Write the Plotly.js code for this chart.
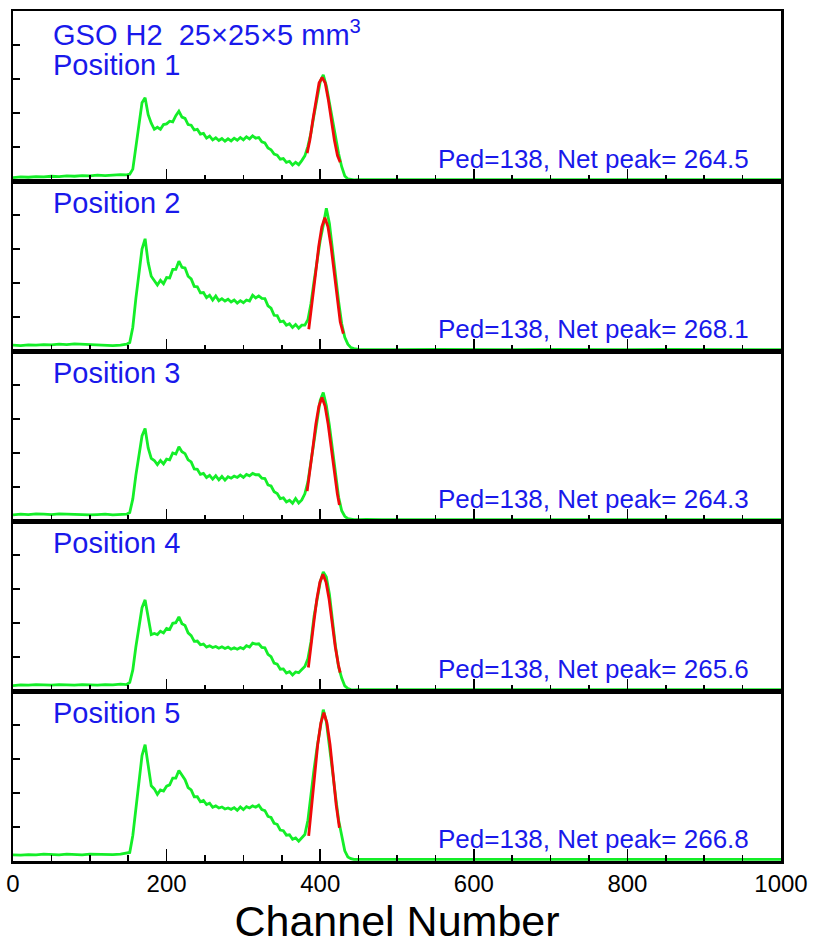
<!DOCTYPE html>
<html>
<head>
<meta charset="utf-8">
<script src="https://cdn.plot.ly/plotly-3.0.1.min.js"></script>
<style>
  html, body { margin: 0; padding: 0; background: #ffffff; }
  #chart { width: 814px; height: 945px; }
</style>
</head>
<body>
<div id="chart"></div>
<script>
// GSO H2 (25x25x5 mm^3) pulse-height spectra, five source positions.

// Channel grid shared by all spectra
const channels = [
  0, 10, 20, 30, 40, 50, 60, 70, 80, 90, 100, 110, 120, 130, 140, 148,
  152, 156, 160, 164, 168, 172, 176, 180, 184, 188,
  192, 196, 200, 204, 208, 212, 216, 220, 224, 228,
  232, 236, 240, 244, 248, 252, 256, 260, 264, 268,
  272, 276, 280, 284, 288, 292, 296, 300, 304, 308,
  312, 316, 320, 324, 328, 332, 336, 340, 344, 348,
  352, 356, 360, 364, 368, 372, 376, 380, 384, 388,
  392, 396, 400, 404, 408, 412, 416, 420, 424, 428,
  432, 436, 440, 444,
  450, 460, 480, 500, 550, 600, 650, 700, 750, 800, 850, 900, 950, 1000
];

// Counts per channel (arbitrary units) for each position
const counts1 = [
  0.10, 0.12, 0.11, 0.13, 0.12, 0.14, 0.13, 0.15, 0.14, 0.16, 0.15, 0.17, 0.16, 0.18, 0.19, 0.18,
  0.20, 0.35, 0.95, 1.65, 2.30, 2.45, 1.95, 1.70, 1.52, 1.58,
  1.52, 1.66, 1.68, 1.76, 1.74, 1.92, 2.05, 1.88, 1.84, 1.66,
  1.64, 1.50, 1.52, 1.38, 1.40, 1.26, 1.32, 1.21, 1.27, 1.19,
  1.25, 1.17, 1.24, 1.18, 1.26, 1.20, 1.28, 1.21, 1.30, 1.24,
  1.33, 1.26, 1.28, 1.15, 1.12, 0.97, 0.92, 0.79, 0.76, 0.64,
  0.66, 0.55, 0.58, 0.47, 0.55, 0.48, 0.60, 0.74, 1.02, 1.42,
  1.95, 2.50, 2.92, 3.12, 2.80, 2.30, 1.80, 1.25, 0.80, 0.42,
  0.15, 0.06, 0.04, 0.03,
  0.04, 0.04, 0.05, 0.04, 0.04, 0.05, 0.04, 0.04, 0.05, 0.04, 0.04, 0.05, 0.04, 0.04
];
const counts2 = [
  0.17, 0.16, 0.18, 0.17, 0.19, 0.18, 0.20, 0.19, 0.21, 0.20, 0.18, 0.19, 0.17, 0.16, 0.17, 0.20,
  0.25, 0.70, 1.55, 2.25, 3.00, 3.30, 2.60, 2.20, 2.08, 1.94,
  2.08, 1.98, 2.16, 2.15, 2.40, 2.40, 2.64, 2.46, 2.44, 2.20,
  2.12, 1.90, 1.89, 1.71, 1.72, 1.57, 1.64, 1.50, 1.62, 1.48,
  1.54, 1.47, 1.52, 1.44, 1.50, 1.41, 1.48, 1.42, 1.50, 1.47,
  1.64, 1.56, 1.62, 1.55, 1.54, 1.33, 1.26, 1.05, 1.04, 0.86,
  0.88, 0.76, 0.80, 0.69, 0.78, 0.67, 0.76, 0.76, 0.92, 1.40,
  2.05, 2.70, 3.25, 3.70, 4.20, 3.75, 2.95, 2.20, 1.45, 0.80,
  0.40, 0.20, 0.10, 0.07,
  0.05, 0.04, 0.05, 0.04, 0.05, 0.04, 0.04, 0.05, 0.04, 0.04, 0.05, 0.04, 0.04, 0.04
];
const counts3 = [
  0.18, 0.20, 0.19, 0.21, 0.20, 0.19, 0.21, 0.20, 0.19, 0.20, 0.18, 0.19, 0.20, 0.18, 0.19, 0.20,
  0.25, 0.65, 1.35, 1.90, 2.50, 2.72, 2.15, 1.84, 1.78, 1.66,
  1.78, 1.68, 1.82, 1.80, 2.00, 1.97, 2.18, 2.04, 1.98, 1.80,
  1.74, 1.53, 1.52, 1.37, 1.40, 1.28, 1.34, 1.23, 1.33, 1.21,
  1.31, 1.20, 1.30, 1.26, 1.32, 1.28, 1.35, 1.28, 1.37, 1.33,
  1.40, 1.36, 1.36, 1.26, 1.25, 1.06, 1.03, 0.86, 0.81, 0.66,
  0.68, 0.56, 0.61, 0.52, 0.66, 0.53, 0.62, 0.80, 1.15, 1.75,
  2.35, 3.00, 3.55, 3.78, 3.40, 2.80, 2.05, 1.35, 0.70, 0.30,
  0.14, 0.07, 0.05, 0.04,
  0.04, 0.05, 0.04, 0.04, 0.05, 0.04, 0.04, 0.05, 0.04, 0.04, 0.04, 0.05, 0.04, 0.04
];
const counts4 = [
  0.16, 0.18, 0.17, 0.19, 0.18, 0.17, 0.19, 0.18, 0.17, 0.19, 0.18, 0.17, 0.19, 0.18, 0.20, 0.19,
  0.25, 0.62, 1.30, 1.90, 2.45, 2.68, 2.15, 1.66, 1.69, 1.66,
  1.76, 1.71, 1.84, 1.81, 1.99, 2.01, 2.18, 1.98, 1.93, 1.71,
  1.63, 1.46, 1.47, 1.36, 1.38, 1.29, 1.33, 1.28, 1.31, 1.26,
  1.30, 1.25, 1.29, 1.23, 1.27, 1.23, 1.28, 1.24, 1.33, 1.29,
  1.41, 1.38, 1.39, 1.28, 1.27, 1.08, 1.01, 0.82, 0.79, 0.64,
  0.65, 0.53, 0.57, 0.47, 0.56, 0.54, 0.63, 0.72, 0.95, 1.45,
  2.20, 2.75, 3.20, 3.50, 3.35, 2.85, 2.05, 1.30, 0.70, 0.38,
  0.15, 0.07, 0.04, 0.03,
  0.04, 0.04, 0.05, 0.04, 0.04, 0.05, 0.04, 0.04, 0.04, 0.05, 0.04, 0.04, 0.05, 0.04
];
const counts5 = [
  0.18, 0.17, 0.19, 0.18, 0.20, 0.19, 0.18, 0.20, 0.19, 0.18, 0.20, 0.19, 0.18, 0.19, 0.20, 0.22,
  0.25, 0.75, 1.60, 2.30, 3.10, 3.42, 2.75, 2.21, 2.12, 1.96,
  2.09, 2.06, 2.20, 2.24, 2.44, 2.44, 2.66, 2.51, 2.39, 2.16,
  2.09, 1.89, 1.89, 1.74, 1.78, 1.66, 1.70, 1.58, 1.62, 1.56,
  1.59, 1.53, 1.56, 1.52, 1.57, 1.49, 1.59, 1.51, 1.60, 1.56,
  1.62, 1.58, 1.64, 1.51, 1.48, 1.31, 1.28, 1.11, 1.08, 0.91,
  0.89, 0.76, 0.77, 0.64, 0.68, 0.58, 0.68, 0.78, 1.20, 2.00,
  2.70, 3.35, 3.90, 4.45, 4.10, 3.45, 2.65, 1.90, 1.20, 0.75,
  0.30, 0.12, 0.07, 0.05,
  0.05, 0.04, 0.04, 0.05, 0.04, 0.04, 0.05, 0.04, 0.04, 0.05, 0.04, 0.04, 0.04, 0.05
];

// Pedestal and fitted net photopeak position per position
const pedestal = 138;
const netPeaks = [264.5, 268.1, 264.3, 265.6, 266.8];

// Photopeak fit curves: channel offset from the fitted peak, and fitted counts
const fitOffsets1 = [-19.5, -16, -12, -8, -4, 0, 4, 8, 12, 16, 20, 23.5];
const fitCounts1  = [0.82, 1.20, 1.80, 2.40, 2.88, 3.05, 2.88, 2.40, 1.80, 1.20, 0.75, 0.55];
const fitOffsets2 = [-21, -16, -12, -8, -4, 0, 4, 8, 12, 16, 20, 24];
const fitCounts2  = [0.64, 1.50, 2.30, 3.08, 3.65, 3.92, 3.65, 3.08, 2.30, 1.50, 0.85, 0.51];
const fitOffsets3 = [-19.3, -16, -12, -8, -4, 0, 4, 8, 12, 16, 20, 22.7];
const fitCounts3  = [0.88, 1.38, 2.12, 2.85, 3.38, 3.63, 3.38, 2.85, 2.12, 1.38, 0.80, 0.47];
const fitOffsets4 = [-19, -16, -12, -8, -4, 0, 4, 8, 12, 16, 20, 22.4];
const fitCounts4  = [0.69, 1.30, 2.00, 2.70, 3.20, 3.43, 3.20, 2.70, 2.00, 1.30, 0.78, 0.54];
const fitOffsets5 = [-19.8, -16, -12, -8, -4, 0, 4, 8, 12, 16, 20.2];
const fitCounts5  = [0.74, 1.65, 2.55, 3.43, 4.06, 4.36, 4.06, 3.43, 2.55, 1.65, 0.98];

const positionLabels = ['Position 1', 'Position 2', 'Position 3', 'Position 4', 'Position 5'];
const headerLabel = 'GSO H2&nbsp;&nbsp;25×25×5 mm<sup>3</sup>';
const xTitle = 'Channel Number';

const spectra = [counts1, counts2, counts3, counts4, counts5];
const fitOffsets = [fitOffsets1, fitOffsets2, fitOffsets3, fitOffsets4, fitOffsets5];
const fitCounts = [fitCounts1, fitCounts2, fitCounts3, fitCounts4, fitCounts5];

const FONT = 'Liberation Sans, Arial, Helvetica, sans-serif';
const BLUE = 'rgb(25,25,235)';
const GREEN = 'rgb(20,238,40)';
const RED = 'rgb(240,10,10)';

const nPanels = spectra.length;
const traces = [];
const annotations = [];
const layout = {
  width: 814,
  height: 945,
  margin: { l: 13, r: 33, t: 11, b: 84, pad: 0 },
  paper_bgcolor: '#ffffff',
  plot_bgcolor: '#ffffff',
  showlegend: false,
  font: { family: FONT, color: '#000000' },
  annotations: annotations
};

for (let i = 0; i < nPanels; i++) {
  const k = i + 1;
  const sfx = k === 1 ? '' : String(k);
  const xa = 'x' + sfx;
  const ya = 'y' + sfx;
  const top = Math.round((1 - 0.2 * i) * 1000) / 1000;
  const bottom = Math.max(0, Math.round((1 - 0.2 * k) * 1000) / 1000);
  const isLast = k === nPanels;

  const xAxis = {
    domain: [0, 1],
    anchor: ya,
    range: [0, 1000],
    tick0: 0,
    dtick: 200,
    ticks: 'inside',
    ticklen: 12,
    tickwidth: 1.5,
    tickcolor: '#000000',
    minor: { tick0: 0, dtick: 50, ticks: 'inside', ticklen: 6, tickwidth: 1.5, tickcolor: '#000000' },
    showticklabels: isLast,
    tickfont: { family: FONT, size: 24, color: '#000000' },
    showline: true,
    mirror: true,
    linecolor: '#000000',
    linewidth: 2.5,
    showgrid: false,
    zeroline: false
  };
  if (isLast) {
    xAxis.title = { text: xTitle, font: { family: FONT, size: 43, color: '#000000' }, standoff: 16 };
  }
  layout['xaxis' + sfx] = xAxis;

  layout['yaxis' + sfx] = {
    domain: [bottom, top],
    anchor: xa,
    range: [0, 5],
    tickvals: [1, 2, 3, 4],
    ticks: 'inside',
    ticklen: 7,
    tickwidth: 1.5,
    tickcolor: '#000000',
    showticklabels: false,
    showline: true,
    mirror: true,
    linecolor: '#000000',
    linewidth: 2.5,
    showgrid: false,
    zeroline: false
  };

  traces.push({
    type: 'scatter',
    mode: 'lines',
    x: channels,
    y: spectra[i],
    xaxis: xa,
    yaxis: ya,
    line: { color: GREEN, width: 2.8 },
    hoverinfo: 'skip'
  });

  const peakChannel = pedestal + netPeaks[i];
  traces.push({
    type: 'scatter',
    mode: 'lines',
    x: fitOffsets[i].map(d => peakChannel + d),
    y: fitCounts[i],
    xaxis: xa,
    yaxis: ya,
    line: { color: RED, width: 2.8 },
    hoverinfo: 'skip'
  });

  const yDom = ya + ' domain';
  if (k === 1) {
    annotations.push({
      xref: 'paper', yref: yDom, x: 0.05, y: 0.99,
      xanchor: 'left', yanchor: 'top', showarrow: false,
      text: headerLabel,
      font: { family: FONT, size: 29, color: BLUE }
    });
    annotations.push({
      xref: 'paper', yref: yDom, x: 0.05, y: 0.79,
      xanchor: 'left', yanchor: 'top', showarrow: false,
      text: positionLabels[i],
      font: { family: FONT, size: 29, color: BLUE }
    });
  } else {
    annotations.push({
      xref: 'paper', yref: yDom, x: 0.05, y: 0.975,
      xanchor: 'left', yanchor: 'top', showarrow: false,
      text: positionLabels[i],
      font: { family: FONT, size: 29, color: BLUE }
    });
  }
  annotations.push({
    xref: 'paper', yref: yDom, x: 0.961, y: 0.03,
    xanchor: 'right', yanchor: 'bottom', showarrow: false,
    text: 'Ped=' + pedestal + ', Net peak= ' + netPeaks[i].toFixed(1),
    font: { family: FONT, size: 26, color: BLUE }
  });
}

Plotly.newPlot('chart', traces, layout, { displayModeBar: false, staticPlot: true });
</script>
</body>
</html>
